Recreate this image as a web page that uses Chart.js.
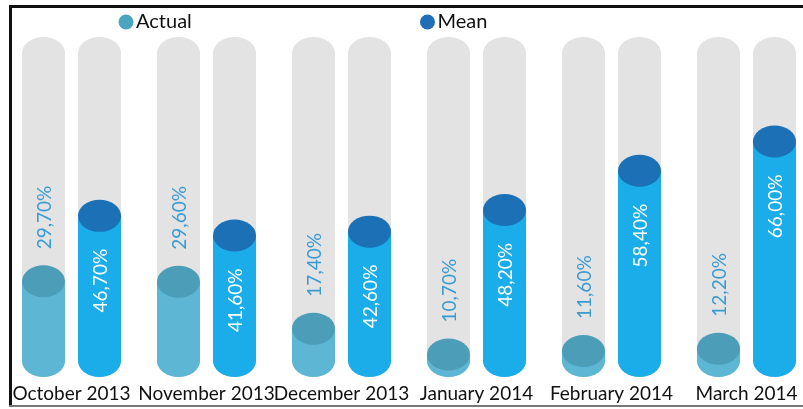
<!DOCTYPE html>
<html>
<head>
<meta charset="utf-8">
<script src="https://cdn.jsdelivr.net/npm/chart.js"></script>
<style>
  html, body { margin: 0; padding: 0; background: #fff; }
  #wrap { position: relative; width: 803px; height: 409px; }
</style>
</head>
<body>
<div id="wrap"><canvas id="tubeChart" width="803" height="409"></canvas></div>
<script>
// monthly share, actual vs mean (%)
const months = ['October 2013', 'November 2013', 'December 2013', 'January 2014', 'February 2014', 'March 2014'];
const actualValues = [29.7, 29.6, 17.4, 10.7, 11.6, 12.2];
const meanValues = [46.7, 41.6, 42.6, 48.2, 58.4, 66.0];
const yMin = 9;
const yMax = 89;

const FONT = 'Lato, "Open Sans", sans-serif';
const TRACK = '#e3e3e3';
const RY = 16; // half height of the cylinder ellipses

const tubeColors = [
    { body: '#5cb6d4', top: '#4c9eb8', label: '#3a9bd2', legend: '#4aa5c0' },
    { body: '#1badea', top: '#1b70b6', label: '#ffffff', legend: '#1e6fb8' }
];

function pct(v) {
    return v.toFixed(2).replace('.', ',') + '%';
}

function ellipse(ctx, x, y, rx, ry, color) {
    ctx.beginPath();
    ctx.ellipse(x, y, rx, ry, 0, 0, Math.PI * 2);
    ctx.fillStyle = color;
    ctx.fill();
}

// grey tubes behind every bar, plus the frame
const tubeBack = {
    id: 'tubeBack',
    beforeDatasetsDraw(chart) {
        const ctx = chart.ctx;
        const area = chart.chartArea;
        ctx.save();
        // frame
        ctx.fillStyle = '#111';
        ctx.fillRect(9, 5, 794, 3);
        ctx.fillRect(9, 5, 3, 402);
        ctx.fillStyle = '#777';
        ctx.fillRect(9, 405, 794, 2);

        chart.data.datasets.forEach((ds, i) => {
            chart.getDatasetMeta(i).data.forEach(bar => {
                const rx = bar.width / 2;
                ctx.fillStyle = TRACK;
                ctx.fillRect(bar.x - rx, area.top, bar.width, bar.base - area.top);
                ellipse(ctx, bar.x, area.top, rx, RY, TRACK);
                ellipse(ctx, bar.x, bar.base, rx, RY, TRACK);
            });
        });
        ctx.restore();
    },
    afterDatasetsDraw(chart) {
        const ctx = chart.ctx;
        ctx.save();
        chart.data.datasets.forEach((ds, i) => {
            const c = tubeColors[i];
            chart.getDatasetMeta(i).data.forEach((bar, j) => {
                const rx = bar.width / 2;
                ellipse(ctx, bar.x, bar.base, rx, RY, c.body);
                ctx.fillStyle = c.body;
                ctx.fillRect(bar.x - rx, bar.y, bar.width, bar.base - bar.y);
                ellipse(ctx, bar.x, bar.y, rx, RY, c.top);

                // rotated value label
                ctx.save();
                ctx.font = '19px ' + FONT;
                ctx.fillStyle = c.label;
                ctx.textBaseline = 'middle';
                if (i === 0) {
                    ctx.translate(bar.x + 1, bar.y - 32);
                    ctx.rotate(-Math.PI / 2);
                    ctx.textAlign = 'left';
                } else {
                    ctx.translate(bar.x + 1, bar.y + 33);
                    ctx.rotate(-Math.PI / 2);
                    ctx.textAlign = 'right';
                }
                ctx.fillText(pct(ds.data[j]), 0, 0);
                ctx.restore();
            });
        });

        // legend
        const spots = [126, 427.5];
        ctx.font = '20px ' + FONT;
        ctx.textBaseline = 'middle';
        ctx.textAlign = 'left';
        chart.data.datasets.forEach((ds, i) => {
            ellipse(ctx, spots[i], 22, 7.5, 7.5, tubeColors[i].legend);
            ctx.fillStyle = '#111';
            ctx.fillText(ds.label, spots[i] + 10, 22);
        });
        ctx.restore();
    }
};

new Chart(document.getElementById('tubeChart'), {
    type: 'bar',
    data: {
        labels: months,
        datasets: [
            { label: 'Actual', data: actualValues, base: yMin, backgroundColor: 'rgba(0,0,0,0)' },
            { label: 'Mean', data: meanValues, base: yMin, backgroundColor: 'rgba(0,0,0,0)' }
        ]
    },
    options: {
        responsive: false,
        animation: false,
        events: [],
        categoryPercentage: 0.83,
        barPercentage: 0.768,
        layout: { padding: { left: 71.5, right: 56.5, top: 53, bottom: 4 } },
        plugins: {
            legend: { display: false },
            tooltip: { enabled: false }
        },
        scales: {
            x: {
                offset: false,
                grid: { display: false, drawTicks: false },
                border: { display: false },
                ticks: {
                    color: '#111',
                    font: { family: FONT, size: 19 },
                    padding: 21,
                    maxRotation: 0,
                    autoSkip: false
                },
                afterFit(scale) {
                    // fixed band under the tubes, labels may overhang the sides
                    scale.height = 44;
                    scale.paddingLeft = 0;
                    scale.paddingRight = 0;
                }
            },
            y: {
                display: false,
                min: yMin,
                max: yMax
            }
        }
    },
    plugins: [tubeBack]
});
</script>
</body>
</html>
